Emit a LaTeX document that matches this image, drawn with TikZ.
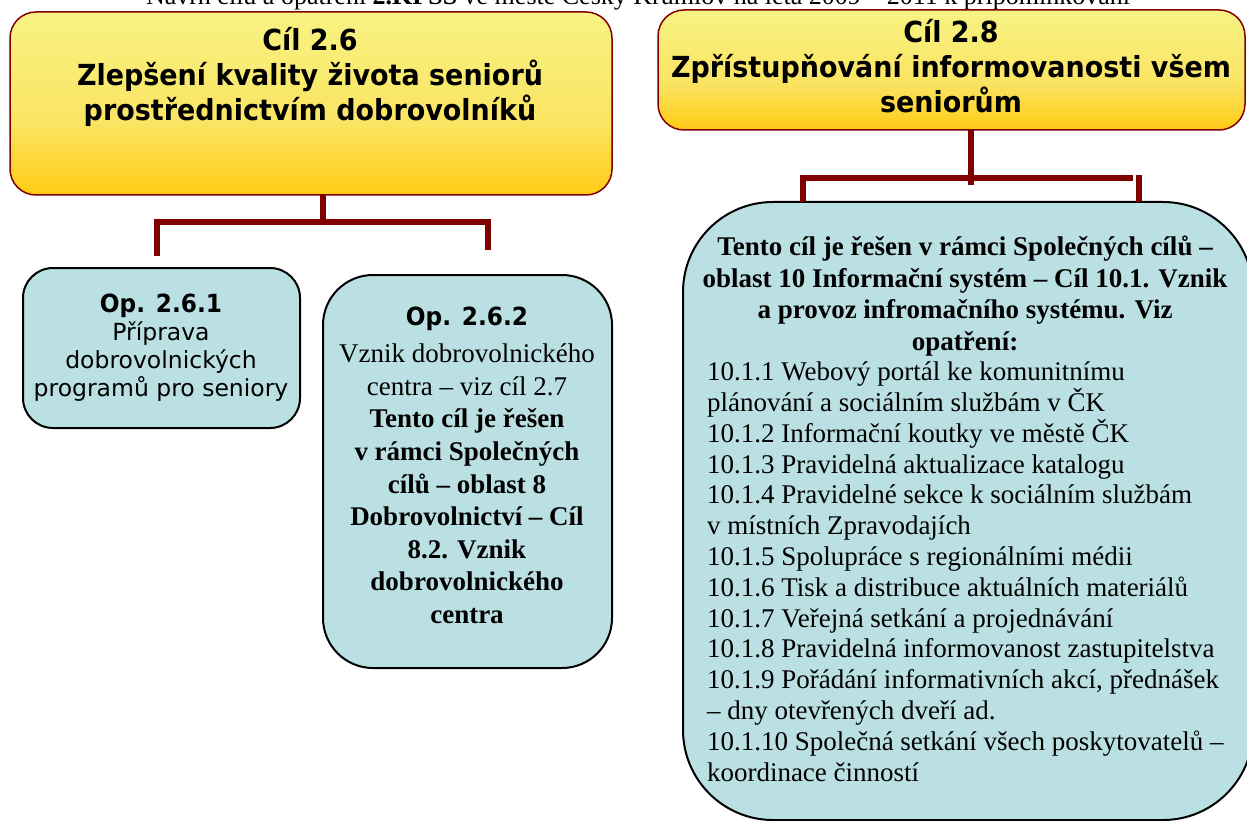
\documentclass[tikz,border=0pt]{standalone}
\usepackage{fontspec}
\setmainfont{Liberation Serif}
\newfontfamily\tahfont{DejaVu Sans}
\newfontfamily\tahbfont[FakeStretch=0.93]{DejaVu Sans Bold}
\definecolor{darkred}{HTML}{800000}
\definecolor{ylight}{HTML}{F8F383}
\definecolor{ymid}{HTML}{FAE463}
\definecolor{ygold}{HTML}{FFCB14}
\definecolor{boxblue}{HTML}{BBE0E3}
\pgfdeclareverticalshading{yshade}{100bp}{color(0bp)=(ygold); color(25bp)=(ygold); color(45bp)=(ymid); color(75bp)=(ylight); color(100bp)=(ylight)}
\newcommand\hdfont{\tahbfont\fontsize{29pt}{35pt}\selectfont}
\newcommand\opfont{\tahfont\fontsize{23.5pt}{28pt}\selectfont}
\newcommand\opbfont{\tahbfont\fontsize{25pt}{28pt}\selectfont}
\newcommand\tnrA{\fontsize{27pt}{32.6pt}\selectfont}
\newcommand\tnrB{\fontsize{27pt}{31.5pt}\selectfont}
\newcommand\tnrC{\fontsize{27pt}{30.8pt}\selectfont}
\begin{document}
\begin{tikzpicture}[x=1pt,y=-1pt,
  ybox/.style={draw=darkred, line width=1.5pt, rounded corners=26pt, shade, shading=yshade, inner sep=0pt, outer sep=0pt},
  bbox/.style={draw=black, line width=2pt, fill=boxblue, inner sep=0pt, outer sep=0pt},
  conn/.style={draw=darkred, line width=6pt},
  txt/.style={inner sep=0pt, outer sep=0pt, text=black}]
\useasboundingbox (0,0) rectangle (1247,821);
\clip (0,0) rectangle (1247,821);
% title (cut off at the top)
\node[txt, anchor=base, font=\fontsize{26pt}{30pt}\selectfont] (title) at (638,5) {Návrh cílů a opatření \textbf{2.KPSS} ve městě Český Krumlov na léta 2009 – 2011 k připomínkování};
% yellow boxes
\node[ybox, minimum width=602pt, minimum height=183pt] (b26) at (311,103.5) {};
\node[ybox, minimum width=587pt, minimum height=120pt] (b28) at (951.5,70) {};
% blue boxes
\node[bbox, rounded corners=30pt, minimum width=277pt, minimum height=160pt] (o261) at (161.5,348) {};
\node[bbox, rounded corners=50pt, minimum width=289pt, minimum height=393pt] (o262) at (467.5,471.5) {};
\node[bbox, rounded corners=90pt, minimum width=570pt, minimum height=618pt] (b10) at (968,511) {};
% headings
\node[txt, anchor=north, font=\hdfont, align=center] (t26) at (310,27) {Cíl 2.6\\Zlepšení kvality života seniorů\\prostřednictvím dobrovolníků};
\node[txt, anchor=north, font=\hdfont, align=center] (t28) at (951,19) {Cíl 2.8\\Zpřístupňování informovanosti všem\\seniorům};
% Op 2.6.1
\node[txt, anchor=north, font=\opfont, align=center] (t261) at (161,294) {{\opbfont Op. 2.6.1}\\Příprava\\dobrovolnických\\programů pro seniory};
% Op 2.6.2
\node[txt, anchor=north, font=\opbfont] (t262h) at (467,307) {Op. 2.6.2};
\node[txt, anchor=north, font=\tnrA, align=center] (t262) at (467,344) {Vznik dobrovolnického\\centra – viz cíl 2.7\\\textbf{Tento cíl je řešen}\\\textbf{v rámci Společných}\\\textbf{cílů – oblast 8}\\\textbf{Dobrovolnictví – Cíl}\\\textbf{8.2. Vznik}\\\textbf{dobrovolnického}\\\textbf{centra}};
% right box text
\node[txt, anchor=north, font=\tnrB\bfseries, align=center] (t10h) at (965,236) {Tento cíl je řešen v rámci Společných cílů –\\oblast 10 Informační systém – Cíl 10.1. Vznik\\a provoz infromačního systému. Viz\\opatření:};
\node[txt, anchor=north west, font=\tnrC, align=left] (t10) at (707,362) {10.1.1 Webový portál ke komunitnímu\\plánování a sociálním službám v ČK\\10.1.2 Informační koutky ve městě ČK\\10.1.3 Pravidelná aktualizace katalogu\\10.1.4 Pravidelné sekce k sociálním službám\\v místních Zpravodajích\\10.1.5 Spolupráce s regionálními médii\\10.1.6 Tisk a distribuce aktuálních materiálů\\10.1.7 Veřejná setkání a projednávání\\10.1.8 Pravidelná informovanost zastupitelstva\\10.1.9 Pořádání informativních akcí, přednášek\\– dny otevřených dveří ad.\\10.1.10 Společná setkání všech poskytovatelů –\\koordinace činností};
% connectors left
\coordinate (l1) at (323,222);
\coordinate (la) at (157,219);
\coordinate (la2) at (157,256);
\coordinate (lb) at (488,219);
\coordinate (lb2) at (488,250);
\coordinate (lh1) at (155,222);
\coordinate (lh2) at (485,222);
\draw[conn] (b26.south -| l1) -- (l1);
\draw[conn] (lh1) -- (lh2);
\draw[conn] (la) -- (la2);
\draw[conn] (lb) -- (lb2);
% connectors right
\coordinate (r1) at (971,185);
\coordinate (ra) at (803,175);
\coordinate (rb) at (1139,175);
\coordinate (rh1) at (800,178);
\coordinate (rh2) at (1133,178);
\draw[conn] (b28.south -| r1) -- (r1);
\draw[conn] (rh1) -- (rh2);
\draw[conn] (ra) -- (ra |- b10.north);
\draw[conn] (rb) -- (rb |- b10.north);
\end{tikzpicture}
\end{document}
